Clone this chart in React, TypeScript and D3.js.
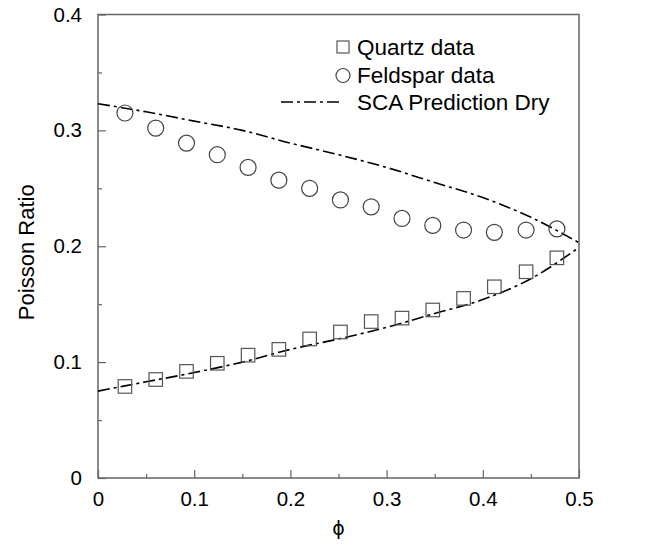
import React, { useEffect, useRef } from "react";
import { axisBottom, axisLeft, curveMonotoneX, line, range, scaleLinear, select } from "d3";

// porosity of the measured samples
const phi = [0.028, 0.06, 0.092, 0.124, 0.156, 0.188, 0.22, 0.252, 0.284, 0.316, 0.348, 0.38, 0.412, 0.445, 0.477];
const quartz = [0.079, 0.085, 0.092, 0.099, 0.106, 0.111, 0.12, 0.126, 0.135, 0.138, 0.145, 0.155, 0.165, 0.178, 0.19];
const feldspar = [0.315, 0.302, 0.289, 0.279, 0.268, 0.257, 0.25, 0.24, 0.234, 0.224, 0.218, 0.214, 0.212, 0.214, 0.215];

// SCA dry predictions
const scaPhi = [0, 0.05, 0.1, 0.15, 0.2, 0.25, 0.3, 0.35, 0.4, 0.45, 0.5];
const scaFeldspar = [0.323, 0.316, 0.308, 0.3, 0.289, 0.279, 0.268, 0.255, 0.242, 0.225, 0.203];
const scaQuartz = [0.075, 0.083, 0.091, 0.1, 0.111, 0.12, 0.13, 0.142, 0.154, 0.172, 0.199];

const xTicks = [0, 0.1, 0.2, 0.3, 0.4, 0.5];
const yTicks = [0, 0.1, 0.2, 0.3, 0.4];
const legendLabels = ["Quartz data", "Feldspar data", "SCA Prediction Dry"];

const W = 652;
const H = 544;
const m = { left: 98, right: 73, top: 14.5, bottom: 66 };
const FONT = "'Liberation Sans', Arial, Helvetica, sans-serif";
const AXIS = "#666";
const DASH = "12,4,3,4";

export default function App() {
  const svgRef = useRef<SVGSVGElement>(null);

  useEffect(() => {
    const svg = select(svgRef.current);
    svg.selectAll("*").remove();

    const x = scaleLinear().domain([0, 0.5]).range([m.left, W - m.right]);
    const y = scaleLinear().domain([0, 0.4]).range([H - m.bottom, m.top]);

    // frame
    svg
      .append("rect")
      .attr("x", x(0))
      .attr("y", y(0.4))
      .attr("width", x(0.5) - x(0))
      .attr("height", y(0) - y(0.4))
      .attr("fill", "none")
      .attr("stroke", AXIS)
      .attr("stroke-width", 1.5);

    // minor ticks
    const gx2 = svg.append("g").attr("transform", `translate(0,${y(0)})`);
    gx2.call(axisBottom(x).tickValues(range(0.05, 0.5, 0.1)).tickSize(-4).tickFormat(() => ""));
    const gy2 = svg.append("g").attr("transform", `translate(${x(0)},0)`);
    gy2.call(axisLeft(y).tickValues(range(0.05, 0.4, 0.1)).tickSize(-4).tickFormat(() => ""));

    // major ticks
    const gx = svg.append("g").attr("transform", `translate(0,${y(0)})`);
    gx.call(axisBottom(x).tickValues(xTicks).tickSize(-8).tickPadding(13).tickFormat((d) => `${+d}`));
    const gy = svg.append("g").attr("transform", `translate(${x(0)},0)`);
    gy.call(axisLeft(y).tickValues(yTicks).tickSize(-8).tickPadding(16).tickFormat((d) => `${+d}`));

    [gx, gy, gx2, gy2].forEach((g) => {
      g.select(".domain").remove();
      g.selectAll(".tick line").attr("stroke", AXIS).attr("stroke-width", 1.2);
      g.selectAll(".tick text").attr("font-family", FONT).attr("font-size", 20.5).attr("fill", "#000");
    });

    // axis titles
    svg
      .append("text")
      .attr("x", (x(0) + x(0.5)) / 2)
      .attr("y", 528)
      .attr("text-anchor", "middle")
      .attr("dominant-baseline", "central")
      .attr("font-family", "'DejaVu Sans', sans-serif")
      .attr("font-size", 19)
      .text("ϕ");
    svg
      .append("text")
      .attr("transform", `translate(26,${y(0.2) + 6}) rotate(-90)`)
      .attr("text-anchor", "middle")
      .attr("dominant-baseline", "central")
      .attr("font-family", FONT)
      .attr("font-size", 22)
      .text("Poisson Ratio");

    // SCA lines
    const gen = line<number>()
      .x((_, i) => x(scaPhi[i]))
      .y((d) => y(d))
      .curve(curveMonotoneX);
    [scaFeldspar, scaQuartz].forEach((s) => {
      svg
        .append("path")
        .attr("d", gen(s))
        .attr("fill", "none")
        .attr("stroke", "#000")
        .attr("stroke-width", 1.6)
        .attr("stroke-dasharray", DASH);
    });

    // data markers
    svg
      .append("g")
      .selectAll("rect")
      .data(quartz)
      .join("rect")
      .attr("x", (_, i) => x(phi[i]) - 6.75)
      .attr("y", (d) => y(d) - 6.75)
      .attr("width", 13.5)
      .attr("height", 13.5)
      .attr("fill", "none")
      .attr("stroke", "#555")
      .attr("stroke-width", 1.2);

    svg
      .append("g")
      .selectAll("circle")
      .data(feldspar)
      .join("circle")
      .attr("cx", (_, i) => x(phi[i]))
      .attr("cy", (d) => y(d))
      .attr("r", 8)
      .attr("fill", "none")
      .attr("stroke", "#444")
      .attr("stroke-width", 1.2);

    // legend
    const lg = svg.append("g");
    const rowY = [47, 75.5, 102];
    lg.append("rect")
      .attr("x", 337)
      .attr("y", rowY[0] - 6)
      .attr("width", 12)
      .attr("height", 12)
      .attr("fill", "none")
      .attr("stroke", "#555")
      .attr("stroke-width", 1.2);
    lg.append("circle")
      .attr("cx", 343)
      .attr("cy", rowY[1])
      .attr("r", 7)
      .attr("fill", "none")
      .attr("stroke", "#444")
      .attr("stroke-width", 1.2);
    lg.append("line")
      .attr("x1", 281)
      .attr("x2", 341)
      .attr("y1", rowY[2])
      .attr("y2", rowY[2])
      .attr("stroke", "#000")
      .attr("stroke-width", 1.6)
      .attr("stroke-dasharray", DASH);
    lg.selectAll("text")
      .data(legendLabels)
      .join("text")
      .attr("x", 357)
      .attr("y", (_, i) => rowY[i])
      .attr("dominant-baseline", "central")
      .attr("font-family", FONT)
      .attr("font-size", 22.5)
      .text((d) => d);
  }, []);

  return (
    <svg
      ref={svgRef}
      width={W}
      height={H}
      style={{ position: "absolute", left: 0, top: 0, background: "#fff" }}
    />
  );
}
